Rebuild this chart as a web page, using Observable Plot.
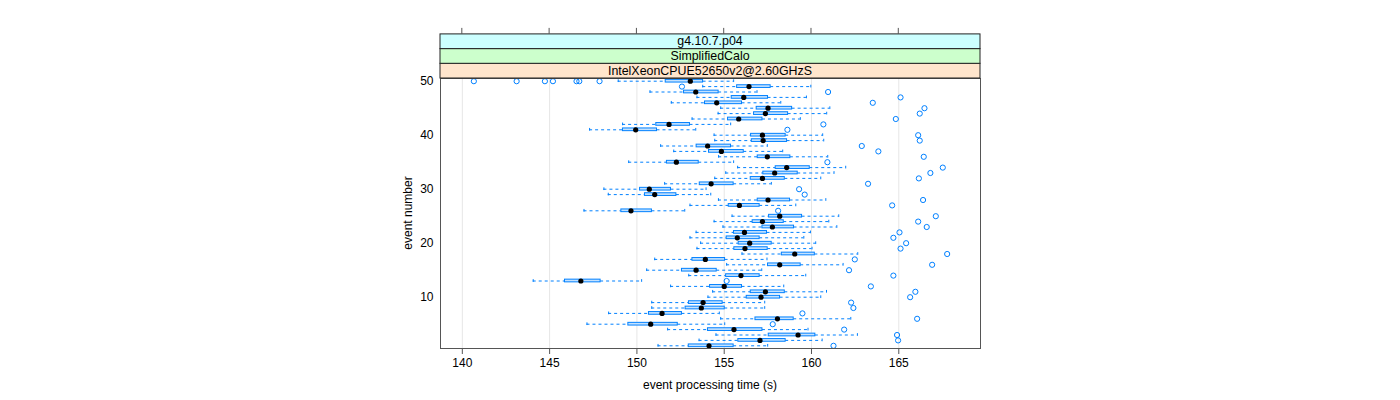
<!DOCTYPE html>
<html>
<head>
<meta charset="utf-8">
<script src="https://cdn.jsdelivr.net/npm/d3@7"></script>
<script src="https://cdn.jsdelivr.net/npm/@observablehq/plot@0.6"></script>
<style>
  html, body { margin: 0; padding: 0; background: #fff; }
  #chart svg { font-family: "Liberation Sans", Arial, Helvetica, sans-serif; }
</style>
</head>
<body>
<div id="chart"></div>
<script>
// ---- data ----
const eventNumbers = d3.range(1, 51);
const whiskerLow = [151.21,153.56,154.53,151.76,147.14,154.80,148.38,150.85,150.85,154.07,
  154.34,151.93,144.06,152.97,150.56,155.14,151.02,156.02,153.44,153.65,
  153.04,153.39,154.93,154.42,155.45,146.97,153.04,154.67,148.36,148.11,
  151.59,154.46,155.09,155.77,149.53,154.68,152.11,151.36,154.46,154.42,
  147.29,149.18,153.16,154.65,154.80,151.97,153.44,150.75,153.77,148.93];
const q1 = [152.97,155.81,157.55,154.07,149.51,156.79,150.69,152.79,152.98,156.29,
  156.52,154.19,145.88,155.11,152.58,157.51,153.18,158.30,155.58,155.83,
  155.14,155.56,157.19,156.63,157.57,149.11,155.26,156.92,150.46,150.18,
  153.60,156.52,157.24,157.95,151.72,156.92,154.13,153.42,156.58,156.54,
  149.20,151.11,155.22,156.71,156.86,153.90,155.43,152.70,155.74,151.65];
const median = [154.13,157.05,159.23,155.56,150.79,158.05,151.44,153.69,153.79,157.11,
  157.36,155.00,146.79,155.96,153.39,158.18,153.92,159.04,156.19,156.46,
  155.75,156.16,157.76,157.19,158.18,149.66,155.87,157.51,151.02,150.71,
  154.25,157.19,157.89,158.58,152.26,157.47,154.84,154.05,157.23,157.19,
  149.93,151.84,155.83,157.36,157.51,154.57,156.12,153.37,156.42,153.06];
const q3 = [155.54,158.52,160.22,157.19,152.34,158.98,152.58,155.03,154.91,158.20,
  158.47,156.02,147.92,157.03,154.57,159.38,155.05,160.19,157.49,157.72,
  157.03,157.45,159.00,158.41,159.46,150.86,157.03,158.77,152.26,151.95,
  155.54,158.47,159.21,159.90,153.54,158.79,156.12,155.39,158.60,158.52,
  151.15,153.04,157.19,158.66,158.89,156.02,157.51,154.68,157.66,153.79];
const whiskerHigh = [157.49,160.61,162.63,159.80,155.03,162.25,154.72,157.32,157.32,160.53,
  160.86,158.41,150.27,159.67,157.15,161.81,157.45,162.65,160.03,160.24,
  159.56,159.94,161.45,160.99,161.56,152.74,159.10,160.82,154.23,153.96,
  157.70,160.53,161.29,161.96,155.54,160.93,158.35,157.47,160.70,160.64,
  153.37,155.37,159.36,160.87,161.05,158.24,159.71,156.88,159.96,155.54];
const outlierEvent = [1,2,3,4,5,6,7,8,9,10,11,12,13,14,15,16,17,18,19,20,
  21,22,23,24,25,26,27,28,29,30,31,32,33,34,35,36,37,38,39,40,
  41,42,43,44,45,46,47,48,49,50,50,50,50,50,50,50];
const outlierValue = [161.26,164.96,164.90,161.87,157.78,166.05,159.48,162.40,162.27,165.65,
  165.95,163.40,155.14,164.69,162.15,166.91,162.48,167.77,165.10,165.42,
  164.69,165.04,166.60,166.11,167.12,158.09,164.62,166.39,159.61,159.29,
  163.24,166.15,166.81,167.52,160.91,166.43,163.83,162.88,166.20,166.11,
  158.62,160.68,164.83,166.20,166.47,163.51,165.10,160.95,152.58,
  140.66,143.11,144.73,145.19,146.54,146.70,147.86];
const xTicks = [140, 145, 150, 155, 160, 165];
const yTicks = [10, 20, 30, 40, 50];
const stripLabels = ["IntelXeonCPUE52650v2@2.60GHzS", "SimplifiedCalo", "g4.10.7.p04"];
const stripColors = ["#ffe5cc", "#ccffcc", "#ccffff"];
const xLabel = "event processing time (s)";
const yLabel = "event number";

// ---- tables built from the arrays ----
const boxes = eventNumbers.map((e, i) => ({
  event: e, lo: whiskerLow[i], q1: q1[i], med: median[i], q3: q3[i], hi: whiskerHigh[i]
}));
const outliers = outlierEvent.map((e, i) => ({event: e, value: outlierValue[i]}));

const W = 1400, H = 400;
const mL = 440, mR = 420, mT = 78, mB = 52;
const blue = "#0080ff";
const halfBox = 0.25;

const plot = Plot.plot({
  width: W, height: H,
  marginLeft: mL, marginRight: mR, marginTop: mT, marginBottom: mB,
  style: {fontFamily: '"Liberation Sans", Arial, sans-serif', fontSize: "12px", color: "#000", background: "#fff"},
  x: {domain: [138.75, 169.68]},
  y: {domain: [0.5, 50.5]},
  marks: [
    Plot.ruleX(xTicks, {stroke: "#e6e6e6", strokeWidth: 1}),
    // whiskers (dashed)
    Plot.ruleY(boxes, {y: "event", x1: "lo", x2: "q1", stroke: blue, strokeDasharray: "3,3", strokeWidth: 1}),
    Plot.ruleY(boxes, {y: "event", x1: "q3", x2: "hi", stroke: blue, strokeDasharray: "3,3", strokeWidth: 1}),
    // whisker caps
    Plot.ruleX(boxes, {x: "lo", y1: d => d.event - halfBox, y2: d => d.event + halfBox, stroke: blue}),
    Plot.ruleX(boxes, {x: "hi", y1: d => d.event - halfBox, y2: d => d.event + halfBox, stroke: blue}),
    // boxes
    Plot.rect(boxes, {x1: "q1", x2: "q3", y1: d => d.event - halfBox, y2: d => d.event + halfBox,
      stroke: blue, fill: "#c4e2ff", strokeWidth: 1}),
    // medians
    Plot.dot(boxes, {x: "med", y: "event", r: 2.6, fill: "#000", stroke: "none"}),
    // outliers
    Plot.dot(outliers, {x: "value", y: "event", r: 2.6, stroke: blue, fill: "none", strokeWidth: 1}),
    Plot.axisX({ticks: xTicks, tickSize: 6, tickPadding: 4, label: null, stroke: "#555"}),
    Plot.axisY({ticks: yTicks, tickSize: 0, tickPadding: 7, label: null}),
    Plot.frame({stroke: "#555"})
  ]
});

document.getElementById("chart").appendChild(plot);

// ---- strips, top ticks, axis titles ----
const svg = d3.select(plot);
const xs = plot.scale("x");
const stripH = 14.7;
const g = svg.append("g");
stripLabels.forEach((lab, i) => {
  const y0 = mT - (i + 1) * stripH;
  g.append("rect").attr("x", mL).attr("y", y0).attr("width", W - mL - mR).attr("height", stripH)
    .attr("fill", stripColors[i]).attr("stroke", "#222").attr("stroke-width", 1);
  g.append("text").attr("x", mL + (W - mL - mR) / 2).attr("y", y0 + stripH / 2)
    .attr("text-anchor", "middle").attr("dominant-baseline", "central")
    .attr("font-size", 12.4).attr("fill", "#000").text(lab);
});
const topY = mT - 3 * stripH;
xTicks.forEach(t => {
  const px = xs.apply(t);
  g.append("line").attr("x1", px).attr("x2", px).attr("y1", topY).attr("y2", topY - 6)
    .attr("stroke", "#555");
});
g.append("text").attr("x", mL + (W - mL - mR) / 2).attr("y", H - 11)
  .attr("text-anchor", "middle").attr("font-size", 12).attr("fill", "#000").text(xLabel);
g.append("text").attr("transform", `translate(412,${mT + (H - mT - mB) / 2}) rotate(-90)`)
  .attr("text-anchor", "middle").attr("font-size", 12).attr("fill", "#000").text(yLabel);
</script>
</body>
</html>
